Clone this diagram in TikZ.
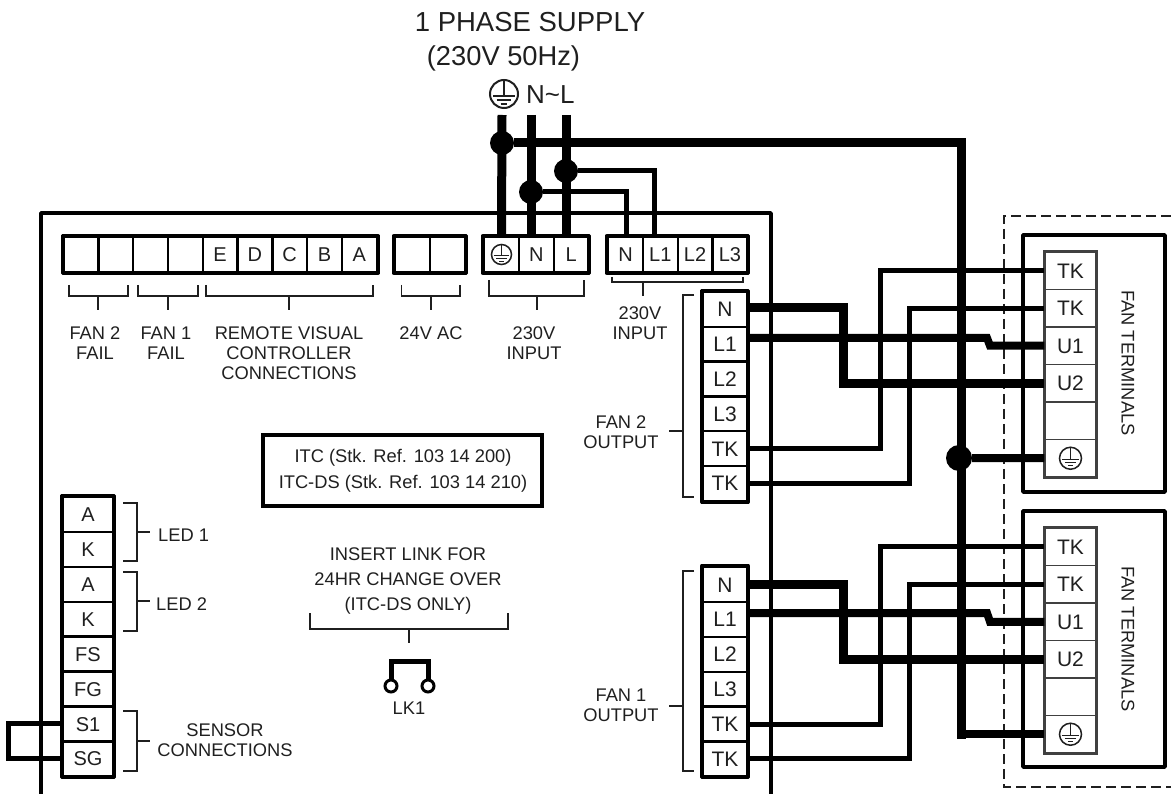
\documentclass[tikz,border=0pt]{standalone}
\usepackage{fontspec}
\setmainfont{Liberation Sans}
\usepackage{tikz}
\definecolor{inkgrey}{rgb}{0.12, 0.12, 0.12}
\tikzset{
	cellbase/.style={draw, inner sep=0pt, text=inkgrey, text depth=0pt},
	stripcell/.style={cellbase, line width=2.4pt, minimum width=34.8pt, minimum height=35pt, font=\fontsize{20}{20}\selectfont, text height=14.3pt},
	sidecell/.style={cellbase, line width=2.4pt, minimum width=44pt, minimum height=34.8pt, font=\fontsize{21}{21}\selectfont, text height=15pt},
	ledcell/.style={cellbase, line width=2.4pt, minimum width=50pt, minimum height=34.9pt, font=\fontsize{20}{20}\selectfont, text height=14.3pt},
	fancell/.style={cellbase, line width=1.5pt, draw=black!75, minimum width=51pt, minimum height=37.5pt, font=\fontsize{21}{21}\selectfont, text height=15pt},
	blockline/.style={line width=3.2pt, line join=round},
	fanblock/.style={line width=2pt, draw=black!75},
	boardline/.style={line width=3.5pt, line join=round},
	wirefat/.style={line width=9pt},
	wiremid/.style={line width=8pt},
	wirethin/.style={line width=5pt},
	bracket/.style={line width=1.8pt, draw=inkgrey},
	wiredot/.style={circle, fill, inner sep=0pt, minimum size=24pt},
	lab/.style={inner sep=0pt, align=center, text=inkgrey, font=\fontsize{18.3}{20}\selectfont},
	earthsign/.pic={
		\draw (0,0) circle (1);
		\draw (0,-1) -- (0,0.12);
		\draw (-0.78,0.12) -- (0.78,0.12);
		\draw (-0.52,0.4) -- (0.52,0.4);
		\draw (-0.24,0.68) -- (0.24,0.68);
	}
}
\begin{document}
\begin{tikzpicture}[x=1pt, y=-1pt]
	\useasboundingbox (0,0) rectangle (1171,794);

	\coordinate (bdl) at (41,794);
	\coordinate (bdt) at (771,213);
	\coordinate (bdr) at (771,794);
	\draw[boardline] (bdl) |- (bdt) -- (bdr);

	\node[lab, font=\fontsize{27.5}{27.5}\selectfont] (supply) at (530,22) {1 PHASE SUPPLY};
	\node[lab, font=\fontsize{27.3}{27.3}\selectfont] (volts) at (503.5,58) {(230V 50Hz)};
	\node[lab, font=\fontsize{26}{26}\selectfont, anchor=west] (nl) at (526,95) {N\textasciitilde L};
	\coordinate (se) at (504,94);
	\pic[scale=14, line width=2pt, inkgrey] at (se) {earthsign};

	\node[stripcell] (s1) at (80.9,254.5) {};
	\node[stripcell] (s2) at (115.7,254.5) {};
	\node[stripcell] (s3) at (150.5,254.5) {};
	\node[stripcell] (s4) at (185.3,254.5) {};
	\node[stripcell] (s5) at (220.1,254.5) {E};
	\node[stripcell] (s6) at (254.9,254.5) {D};
	\node[stripcell] (s7) at (289.7,254.5) {C};
	\node[stripcell] (s8) at (324.5,254.5) {B};
	\node[stripcell] (s9) at (359.3,254.5) {A};
	\draw[blockline] (s1.north west) rectangle (s9.south east);

	\node[stripcell] (ac1) at (412.5,254.5) {};
	\node[stripcell] (ac2) at (447.5,254.5) {};
	\draw[blockline] (ac1.north west) rectangle (ac2.south east);

	\node[stripcell] (iE) at (501.5,254.5) {};
	\node[stripcell] (iN) at (536.3,254.5) {N};
	\node[stripcell] (iL) at (571.1,254.5) {L};
	\draw[blockline] (iE.north west) rectangle (iL.south east);
	\pic[scale=10, line width=1.5pt, inkgrey] at (iE.center) {earthsign};

	\node[stripcell] (oN) at (625.5,254.5) {N};
	\node[stripcell] (oA) at (660.3,254.5) {L1};
	\node[stripcell] (oB) at (695.1,254.5) {L2};
	\node[stripcell] (oC) at (729.9,254.5) {L3};
	\draw[blockline] (oN.north west) rectangle (oC.south east);

	\node[sidecell] (f2N) at (725,309.4) {N};
	\node[sidecell] (f2A) at (725,344.2) {L1};
	\node[sidecell] (f2B) at (725,379) {L2};
	\node[sidecell] (f2C) at (725,413.8) {L3};
	\node[sidecell] (f2T) at (725,448.6) {TK};
	\node[sidecell] (f2K) at (725,483.4) {TK};
	\draw[blockline] (f2N.north west) rectangle (f2K.south east);

	\node[sidecell] (f1N) at (725,584.5) {N};
	\node[sidecell] (f1A) at (725,619.4) {L1};
	\node[sidecell] (f1B) at (725,654.3) {L2};
	\node[sidecell] (f1C) at (725,689.2) {L3};
	\node[sidecell] (f1T) at (725,724) {TK};
	\node[sidecell] (f1K) at (725,758.8) {TK};
	\draw[blockline] (f1N.north west) rectangle (f1K.south east);

	\node[ledcell] (l1) at (88,514.5) {A};
	\node[ledcell] (l2) at (88,549.4) {K};
	\node[ledcell] (l3) at (88,584.3) {A};
	\node[ledcell] (l4) at (88,619.2) {K};
	\node[ledcell] (l5) at (88,654.1) {FS};
	\node[ledcell] (l6) at (88,689) {FG};
	\node[ledcell] (l7) at (88,723.9) {S1};
	\node[ledcell] (l8) at (88,758.8) {SG};
	\draw[blockline] (l1.north west) rectangle (l8.south east);

	\node[fancell] (t2a) at (1070.5,270.75) {TK};
	\node[fancell] (t2b) at (1070.5,308.25) {TK};
	\node[fancell] (t2c) at (1070.5,345.75) {U1};
	\node[fancell] (t2d) at (1070.5,383.25) {U2};
	\node[fancell] (t2e) at (1070.5,420.75) {};
	\node[fancell] (t2f) at (1070.5,458.25) {};
	\draw[fanblock] (t2a.north west) rectangle (t2f.south east);
	\pic[scale=11, line width=1.5pt, inkgrey] at (t2f.center) {earthsign};

	\node[fancell] (t1a) at (1070.5,546.75) {TK};
	\node[fancell] (t1b) at (1070.5,584.25) {TK};
	\node[fancell] (t1c) at (1070.5,621.75) {U1};
	\node[fancell] (t1d) at (1070.5,659.25) {U2};
	\node[fancell] (t1e) at (1070.5,696.75) {};
	\node[fancell] (t1f) at (1070.5,734.25) {};
	\draw[fanblock] (t1a.north west) rectangle (t1f.south east);
	\pic[scale=11, line width=1.5pt, inkgrey] at (t1f.center) {earthsign};

	\node[draw, boardline, minimum width=142pt, minimum height=257pt] (fanbox2) at (1094,363.5) {};
	\node[draw, boardline, minimum width=142pt, minimum height=256pt] (fanbox1) at (1094,639) {};
	\node[lab, rotate=-90, font=\fontsize{18.3}{18.3}\selectfont] (fantxt2) at (1128,363) {FAN TERMINALS};
	\node[lab, rotate=-90, font=\fontsize{18.3}{18.3}\selectfont] (fantxt1) at (1128,639) {FAN TERMINALS};

	\coordinate (dsa) at (1171,216);
	\coordinate (dsb) at (1004,787);
	\draw[line width=1.8pt, draw=inkgrey, dash pattern=on 10pt off 5pt] (dsa) -| (dsb) -- (dsb -| dsa);

	\coordinate (supE) at (502,115);
	\coordinate (supN) at (531,115);
	\coordinate (supL) at (566,115);
	\node[wiredot] (dE) at (502,143) {};
	\node[wiredot] (dN) at (531,192) {};
	\node[wiredot] (dL) at (566,171) {};
	\node[wiredot, minimum size=26pt] (dF) at (959,458) {};
	\draw[wirefat] (supE) -- (iE.north);
	\draw[wirefat] (supN) -- (supN |- iN.north);
	\draw[wirefat] (supL) -- (supL |- iL.north);

	\coordinate (eb) at (961.5,143);
	\coordinate (ec) at (961.5,738.5);
	\draw[wirefat] (dE) -- (eb) -- (ec);
	\draw[wiremid] (ec |- t1f.west) -- (t1f.west);
	\draw[wiremid] (dF) -- (t2f.west);

	\coordinate (nb) at (626,192);
	\coordinate (lb) at (654,171);
	\draw[wirethin] (dN) -- (nb) -- (nb |- oN.north);
	\draw[wirethin] (dL) -- (lb) -- (lb |- oA.north);

	\coordinate (n2a) at (843,308);
	\coordinate (a2a) at (987,338);
	\coordinate (a2b) at (990,345.75);
	\coordinate (t2p) at (880,448.6);
	\coordinate (k2p) at (909,483.4);
	\draw[wirefat] (f2N.east |- n2a) -- (n2a) -- (n2a |- t2d.west) -- (t2d.west);
	\draw[wiremid] (f2A.east |- a2a) -- (a2a) -- (a2b) -- (t2c.west);
	\draw[wirethin] (f2T.east) -- (t2p) -- (t2p |- t2a.west) -- (t2a.west);
	\draw[wirethin] (f2K.east) -- (k2p) -- (k2p |- t2b.west) -- (t2b.west);

	\coordinate (n1a) at (843,584);
	\coordinate (a1a) at (987,613);
	\coordinate (a1b) at (990,621.75);
	\coordinate (t1p) at (880,724);
	\coordinate (k1p) at (909,758.8);
	\draw[wirefat] (f1N.east |- n1a) -- (n1a) -- (n1a |- t1d.west) -- (t1d.west);
	\draw[wiremid] (f1A.east |- a1a) -- (a1a) -- (a1b) -- (t1c.west);
	\draw[wirethin] (f1T.east) -- (t1p) -- (t1p |- t1a.west) -- (t1a.west);
	\draw[wirethin] (f1K.east) -- (k1p) -- (k1p |- t1b.west) -- (t1b.west);

	\coordinate (sl) at (8,723.9);
	\draw[wirethin] (l7.west) -- (sl) -- (sl |- l8.west) -- (l8.west);

	\coordinate (b1a) at (69,285);
	\coordinate (b1b) at (128,296);
	\coordinate (b1s) at (98,310);
	\draw[bracket] (b1a) |- (b1b) -- (b1b |- b1a) (b1s |- b1b) -- (b1s);
	\coordinate (b2a) at (138,285);
	\coordinate (b2b) at (198,296);
	\coordinate (b2s) at (168,310);
	\draw[bracket] (b2a) |- (b2b) -- (b2b |- b2a) (b2s |- b2b) -- (b2s);
	\coordinate (b3a) at (206,285);
	\coordinate (b3b) at (373,296);
	\coordinate (b3s) at (289,310);
	\draw[bracket] (b3a) |- (b3b) -- (b3b |- b3a) (b3s |- b3b) -- (b3s);
	\coordinate (b4a) at (401.5,285);
	\coordinate (b4b) at (460,296);
	\coordinate (b4s) at (431,310);
	\draw[bracket] (b4a) |- (b4b) -- (b4b |- b4a) (b4s |- b4b) -- (b4s);
	\coordinate (b5a) at (489,280);
	\coordinate (b5b) at (584,296);
	\coordinate (b5s) at (537,310);
	\draw[bracket] (b5a) |- (b5b) -- (b5b |- b5a) (b5s |- b5b) -- (b5s);
	\coordinate (b6a) at (612,277);
	\coordinate (b6b) at (743,282);
	\coordinate (b6s) at (643,296);
	\draw[bracket] (b6a) |- (b6b) -- (b6b |- b6a) (b6s |- b6b) -- (b6s);
	\coordinate (b7a) at (310,613);
	\coordinate (b7b) at (508,629);
	\coordinate (b7s) at (409,643);
	\draw[bracket] (b7a) |- (b7b) -- (b7b |- b7a) (b7s |- b7b) -- (b7s);

	\coordinate (v1a) at (123,503);
	\coordinate (v1b) at (137,561);
	\coordinate (v1s) at (150,532);
	\draw[bracket] (v1a) -| (v1b) -- (v1b -| v1a) (v1s -| v1b) -- (v1s);
	\coordinate (v2a) at (123,572);
	\coordinate (v2b) at (137,631);
	\coordinate (v2s) at (150,601);
	\draw[bracket] (v2a) -| (v2b) -- (v2b -| v2a) (v2s -| v2b) -- (v2s);
	\coordinate (v3a) at (123,711);
	\coordinate (v3b) at (137,771);
	\coordinate (v3s) at (150,741);
	\draw[bracket] (v3a) -| (v3b) -- (v3b -| v3a) (v3s -| v3b) -- (v3s);

	\coordinate (w2a) at (694,295);
	\coordinate (w2b) at (682.7,497);
	\coordinate (w2s) at (669,430.7);
	\draw[bracket] (w2a) -| (w2b) -- (w2b -| w2a) (w2s -| w2b) -- (w2s);
	\coordinate (w1a) at (694,571);
	\coordinate (w1b) at (682.7,771);
	\coordinate (w1s) at (669,706);
	\draw[bracket] (w1a) -| (w1b) -- (w1b -| w1a) (w1s -| w1b) -- (w1s);

	\node[lab] (t1) at (95,343) {FAN 2\\FAIL};
	\node[lab] (t2) at (166,343) {FAN 1\\FAIL};
	\node[lab] (t3) at (289,353) {REMOTE VISUAL\\CONTROLLER\\CONNECTIONS};
	\node[lab] (t4) at (431,333) {24V AC};
	\node[lab] (t5) at (534,343) {230V\\INPUT};
	\node[lab] (t6) at (640,323.5) {230V\\INPUT};
	\node[lab] (t7) at (621,432.5) {FAN 2\\OUTPUT};
	\node[lab] (t8) at (621,705) {FAN 1\\OUTPUT};
	\node[lab, anchor=west] (t9) at (158,535) {LED 1};
	\node[lab, anchor=west] (t10) at (156,604) {LED 2};
	\node[lab] (t11) at (225,740) {SENSOR\\CONNECTIONS};
	\node[lab, font=\fontsize{18.3}{25}\selectfont] (t12) at (408,581) {INSERT LINK FOR\\24HR CHANGE OVER\\(ITC-DS ONLY)};
	\node[draw, line width=3.2pt, minimum width=279pt, minimum height=71pt] (itc) at (402.5,470.5) {};
	\node[lab, font=\fontsize{18.3}{26}\selectfont] (itctxt) at (403,471) {ITC (Stk. Ref. 103 14 200)\\ITC-DS (Stk. Ref. 103 14 210)};

	\node[circle, draw, line width=3pt, minimum size=12pt, inner sep=0pt] (lka) at (391,686) {};
	\node[circle, draw, line width=3pt, minimum size=12pt, inner sep=0pt] (lkb) at (428,686) {};
	\coordinate (lkt) at (409,661);
	\draw[wirethin] (lka.north) -- (lka.north |- lkt) -- (lkb.north |- lkt) -- (lkb.north);
	\node[lab] (lk) at (409,708) {LK1};
\end{tikzpicture}
\end{document}
